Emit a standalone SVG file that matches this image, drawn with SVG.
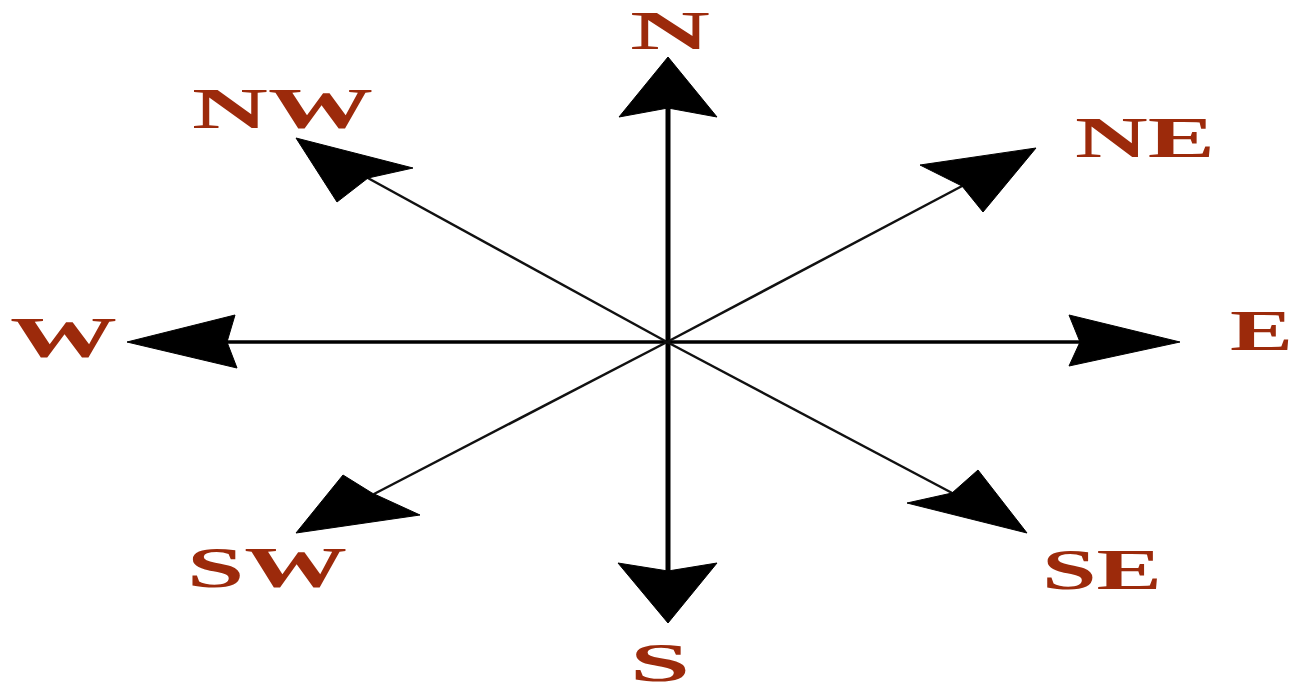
<svg xmlns="http://www.w3.org/2000/svg" width="1294" height="693" viewBox="0 0 1294 693">
<style>
.lbl{font-family:"Liberation Serif","Times New Roman",serif;font-weight:bold;font-size:58px;fill:#9c2a0b}
.edge{font-size:54px}
.ax{stroke:#000;fill:none}
.dg{stroke:#111;stroke-width:2.5;fill:none}
.hd{fill:#000;stroke:#000;stroke-width:1;stroke-linejoin:miter}
</style>
<rect width="1294" height="693" fill="#fff"/>
<g id="connectors">
<line class="ax" x1="668" y1="105" x2="668" y2="575" stroke-width="5"/>
<line class="ax" x1="225" y1="342" x2="1082" y2="342" stroke-width="3.5"/>
<line class="dg" x1="667" y1="342" x2="366" y2="177"/>
<line class="dg" x1="667" y1="342" x2="964" y2="185"/>
<line class="dg" x1="667" y1="342" x2="374" y2="494"/>
<line class="dg" x1="667" y1="342" x2="954" y2="494"/>
<polygon class="hd" points="668,57 717,117 668,108 619,117"/>
<polygon class="hd" points="668,623 717,563 668,571 618,563"/>
<polygon class="hd" points="127,342 235,315 227,342 237,368"/>
<polygon class="hd" points="1180,342 1069,315 1080,342 1069,366"/>
<polygon class="hd" points="296,138 413,168 368,178 337,202"/>
<polygon class="hd" points="1036,148 983,212 962,186 920,165"/>
<polygon class="hd" points="296,533 343,475 372,493 420,515"/>
<polygon class="hd" points="1027,533 978,470 952,493 907,503"/>
</g>
<g id="N"><text class="lbl edge" x="630" y="49" textLength="80" lengthAdjust="spacingAndGlyphs">N</text></g>
<g id="NW"><text class="lbl" x="192" y="128" textLength="181" lengthAdjust="spacingAndGlyphs">NW</text></g>
<g id="NE"><text class="lbl" x="1075" y="157" textLength="140" lengthAdjust="spacingAndGlyphs">NE</text></g>
<g id="W"><text class="lbl" x="10" y="357" textLength="107" lengthAdjust="spacingAndGlyphs">W</text></g>
<g id="E"><text class="lbl" x="1230" y="350" textLength="63" lengthAdjust="spacingAndGlyphs">E</text></g>
<g id="SW"><text class="lbl" x="187" y="587" textLength="160" lengthAdjust="spacingAndGlyphs">SW</text></g>
<g id="S"><text class="lbl edge" x="630" y="681" textLength="60" lengthAdjust="spacingAndGlyphs">S</text></g>
<g id="SE"><text class="lbl" x="1042" y="589" textLength="120" lengthAdjust="spacingAndGlyphs">SE</text></g>
</svg>
